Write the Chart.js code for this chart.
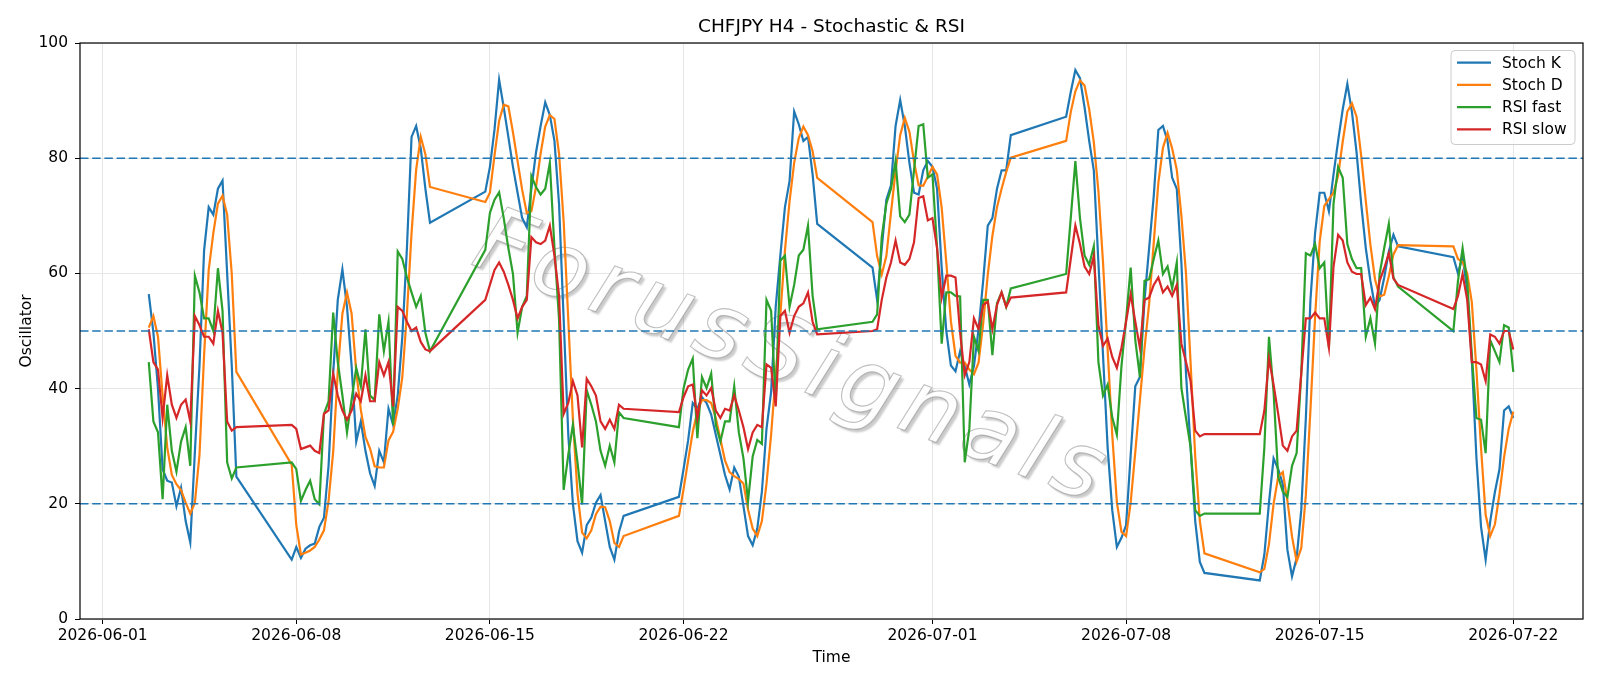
<!DOCTYPE html>
<html>
<head>
<meta charset="utf-8">
<title>CHFJPY H4 - Stochastic &amp; RSI</title>
<script src="https://cdn.jsdelivr.net/npm/chart.js@4.4.1/dist/chart.umd.min.js"></script>
<style>
  html, body { margin: 0; padding: 0; background: #fff; }
  #wrap { width: 1600px; height: 686px; }
</style>
</head>
<body>
<div id="wrap"><canvas id="chart" width="1600" height="686"></canvas></div>
<script>
// H4 bars per trading day (plus the Sunday 20:00 open bar)
var H4 = [0, 4, 8, 12, 16, 20];
var sessions = [
    ['2026-06-02', [16, 20]], ['2026-06-03', H4], ['2026-06-04', H4], ['2026-06-05', H4],
    ['2026-06-07', [20]],
    ['2026-06-08', H4], ['2026-06-09', H4], ['2026-06-10', H4], ['2026-06-11', H4], ['2026-06-12', H4],
    ['2026-06-14', [20]],
    ['2026-06-15', H4], ['2026-06-16', H4], ['2026-06-17', H4], ['2026-06-18', H4], ['2026-06-19', H4],
    ['2026-06-21', [20]],
    ['2026-06-22', H4], ['2026-06-23', H4], ['2026-06-24', H4], ['2026-06-25', H4], ['2026-06-26', H4],
    ['2026-06-28', [20]],
    ['2026-06-29', H4], ['2026-06-30', H4], ['2026-07-01', H4], ['2026-07-02', H4], ['2026-07-03', H4],
    ['2026-07-05', [20]],
    ['2026-07-06', H4], ['2026-07-07', H4], ['2026-07-08', H4], ['2026-07-09', H4], ['2026-07-10', H4],
    ['2026-07-12', [20]],
    ['2026-07-13', H4], ['2026-07-14', H4], ['2026-07-15', H4], ['2026-07-16', H4], ['2026-07-17', H4],
    ['2026-07-19', [20]],
    ['2026-07-20', H4], ['2026-07-21', H4], ['2026-07-22', [0]]
];

var tickLabels = ['2026-06-01', '2026-06-08', '2026-06-15', '2026-06-22', '2026-07-01', '2026-07-08', '2026-07-15', '2026-07-22'];
var levels = [20, 50, 80];

var stochK = [
    56.4, 49.7, 40, 26, 24, 23.7, 19.6, 22.8, 17, 13.3, 29, 44, 64, 71.5, 70.2, 74.7, 76.1, 60, 44, 24.7,
    10.3,
    12.5, 10.6, 12.2, 12.8, 13.1, 16, 17.6, 26.6, 42.6, 55.4, 60.7, 54.2, 43.9, 30.8, 34.3, 29.2, 25.3, 23.1, 29.2, 27.2, 36.5, 33.7, 38.8, 49, 64.4, 83.7, 85.6, 81.7, 74.7, 68.8,
    74.2,
    78.5, 85, 93.6, 88.8, 83.7, 78.5, 74, 69.6, 68, 74.7, 81, 85.6, 89.7, 87.5, 83, 72, 52, 32, 20, 13.5, 11.5, 16.3, 17.6, 20.2, 21.5, 17, 12.5, 10.3, 15.1, 17.9,
    21.2,
    26, 31, 37.5, 36.5, 38.5, 37.5, 35.5, 32, 28.5, 25, 22.5, 26.3, 24.7, 19.6, 14.4, 12.8, 15.7, 22.1, 33, 39.4, 54.2, 63.1, 71.5, 76, 88.1, 85.9, 83, 83.7, 77.2, 68.6,
    61,
    55.4, 64.4, 72.8, 75.3, 85.6, 90.1, 85.6, 79.2, 74, 73.7, 77.9, 79.5, 78.5, 74.7, 61, 50, 44, 43, 46.5, 43.9, 40.7, 43.9, 50.3, 58.7, 68.3, 69.6, 74.7, 77.9, 77.9, 84,
    87.2,
    91.5, 95.3, 93.9, 88.8, 83, 77.9, 61.9, 45.8, 29.8, 18.9, 12.5, 14.1, 16.3, 28.5, 40.4, 42, 55.4, 64.4, 73.4, 84.9, 85.6, 83, 76.6, 74.7, 61.9, 42.6, 29.8, 17, 9.9, 8,
    6.7,
    11.2, 20.2, 27.9, 26, 23.4, 12, 7.4, 10.6, 18.9, 34.9, 55.4, 67, 74, 74, 70.8, 77.2, 83, 88.5, 92.9, 88, 81, 72.1, 64.4, 58.7, 54.2, 55.4, 59.3, 63.8, 66.7, 64.7,
    62.8,
    60, 63, 57, 45, 28, 16, 10.3, 17, 22, 26, 36.2, 36.9, 34.9
];

var stochD = [
    50.6, 52.6, 49, 38.8, 29.8, 25, 23.4, 22.4, 20.2, 18.3, 20.2, 28.5, 45.8, 60.6, 67, 72.1, 73.5, 70.2, 59.9, 42.9,
    26.8,
    16.3, 11.2, 11.5, 11.9, 12.5, 13.8, 15.4, 20.5, 29, 43, 53, 56.7, 53, 43, 36.3, 31.6, 29.6, 26.5, 26.3, 26.3, 31, 32.5, 36.5, 42, 53, 67, 78, 83.7, 80.7, 75,
    72.4,
    74, 80.5, 86.5, 89.3, 89, 84.5, 79.5, 74.5, 70.5, 70.8, 75, 80.8, 85.5, 87.5, 86.8, 80.8, 69, 52, 34.7, 21.8, 15, 14, 15.4, 18.2, 19.5, 19.4, 17, 13.2, 12.5, 14.4,
    17.9,
    22.5, 27.5, 32.5, 36, 38, 38, 37.5, 34.9, 31.2, 27.5, 25.5, 24.8, 24.3, 23.5, 19, 15.7, 14.4, 17, 23.5, 32, 42.4, 52.8, 64, 72.5, 79.2, 83.5, 85.5, 84, 81.2, 76.6,
    68.9,
    63, 59.8, 63, 70.5, 77.8, 84, 87, 84.6, 79.4, 75.3, 75.2, 76.8, 78.5, 77.2, 71.4, 61.9, 51.7, 45.7, 44.5, 44.5, 43.3, 42.5, 44.5, 51.3, 59.8, 66.5, 71.5, 74.7, 77.6, 80.1,
    83,
    88, 91.6, 93.5, 92.6, 88.5, 82.8, 74.3, 61.9, 46.8, 32, 20.3, 15.1, 14.4, 20.2, 29, 38, 47, 54.7, 65.3, 75.7, 81.8, 84.4, 81.7, 78, 70, 60, 44.4, 28.2, 17, 11.4,
    8.1,
    8.7, 13, 20, 24.7, 25.5, 20.5, 14.3, 10, 12.3, 21.5, 36.4, 52.4, 65.5, 71.7, 72.9, 74, 77, 82.9, 88.1, 89.5, 87.2, 80.4, 72.6, 65, 59, 56, 56.3, 59.5, 63.3, 64.9,
    64.7,
    62.5, 62, 60, 55, 43.3, 29.7, 18.1, 14.4, 16.4, 21.7, 28.1, 33, 36
];

var rsiFast = [
    44.6, 34.3, 32.4, 20.8, 37.2, 29.2, 25.6, 30.8, 33.3, 26.6, 59.6, 56.7, 52.2, 52.2, 50, 60.9, 53.5, 27.2, 24.4, 26.3,
    27.2,
    26, 20.5, 22.4, 24, 20.8, 19.9, 35.6, 37.8, 53.2, 44.6, 38.8, 32.4, 38.1, 43.6, 40.4, 50.3, 38.8, 38, 52.9, 46.5, 51.6, 33.7, 63.8, 62.5, 59.3, 56.7, 54.2, 56.1, 49.7, 46.5,
    64.1,
    70.5, 72.8, 74.1, 69.6, 64.4, 59.9, 49.7, 54.2, 56.1, 76.9, 75, 73.7, 74.7, 79.2, 64.4, 52, 22.4, 28.5, 33.7, 27.2, 19.9, 39.7, 37.2, 34.3, 29.2, 26.6, 30.1, 27.2, 35.9, 34.9,
    33.3,
    40, 43.3, 45.2, 31.4, 42, 40.1, 42.6, 33.7, 30.8, 34.3, 34.3, 40.4, 32.4, 27.9, 20.5, 28.2, 31.1, 30.4, 55.4, 53.5, 37.5, 62.2, 63.1, 54.2, 58, 63.1, 64.1, 68.3, 56.1, 50.3,
    51.6,
    52.9, 66.3, 72.1, 74.7, 79.5, 69.9, 68.9, 70.2, 77.9, 85.6, 85.9, 76.6, 77.2, 64.4, 47.8, 56.7, 56.7, 56.1, 56, 27.2, 33, 49, 46.5, 55.4, 55.4, 45.8, 54.8, 56.7, 54.2, 57.4,
    59.9,
    69.6, 79.5, 69.6, 63.1, 61.5, 64.7, 44.6, 38.8, 40.7, 35, 32, 43.9, 52, 61, 48.4, 42, 58.7, 59, 62.5, 65.7, 59.9, 61.2, 57.4, 61.9, 40.1, 34.9, 29.8, 18.9, 17.9, 18.3,
    18.3,
    29.8, 49, 39.4, 24.7, 22.1, 21.2, 26.6, 28.8, 42.6, 63.5, 63.1, 65.1, 60.9, 61.9, 47.1, 72.1, 78.5, 76.6, 65.1, 62.5, 60.9, 60.9, 49, 52.2, 47.8, 59.9, 64.4, 68.6, 59.3, 57.7,
    50,
    58.7, 64.4, 58.7, 45.8, 34.9, 34.6, 28.8, 48.4, 46.5, 44.6, 51, 50.6, 42.9
];

var rsiSlow = [
    50.3, 44.6, 43.3, 34.9, 42.3, 37.2, 34.9, 37.2, 38.1, 34.3, 52.6, 51, 49, 49, 47.8, 53.5, 49.7, 34.3, 32.7, 33.3,
    33.7,
    33, 29.5, 29.8, 30.1, 29.2, 28.8, 35.6, 36.2, 42.6, 38.8, 36.2, 34.6, 36.2, 39.1, 37.8, 42.3, 37.8, 37.8, 44.6, 42.3, 44.6, 36.9, 54.2, 53.5, 51.6, 50, 50.6, 48.1, 46.8, 46.5,
    55.4,
    58, 60.6, 61.9, 60.3, 58, 55.4, 52.2, 54.2, 55.4, 66.3, 65.4, 65.1, 65.7, 68.3, 63.1, 56.1, 35.6, 37.5, 41.3, 38.8, 29.8, 41.7, 40.4, 38.8, 34.3, 33, 34.6, 33, 37.2, 36.5,
    35.9,
    38.5, 40.4, 40.7, 34.9, 39.7, 38.8, 40.1, 36.2, 34.9, 36.5, 36.2, 38.8, 36.2, 33.3, 29.5, 32.4, 33.7, 33.3, 44.2, 43.6, 36.9, 52.6, 53.5, 49.7, 52.6, 54.2, 54.8, 56.7, 51.6, 49.4,
    50,
    50.3, 55.4, 59.3, 61.9, 65.7, 61.9, 61.5, 62.5, 65.4, 73.1, 73.4, 69.2, 69.6, 64.4, 55.8, 59.6, 59.6, 59.3, 49.7, 42.3, 44.6, 52.2, 50.3, 54.5, 55.1, 50.3, 54.5, 56.7, 54.2, 55.8,
    56.7,
    62.5, 68.3, 65.1, 61.2, 59.9, 63, 51, 47.4, 48.7, 45.5, 43.6, 47.1, 51.6, 56.4, 51.6, 47.1, 55.4, 55.8, 58, 59.3, 56.7, 57.7, 56.1, 58, 47.8, 44.6, 41.3, 32.7, 31.7, 32.1,
    32.1,
    36.2, 45.2, 40.7, 35.6, 30.1, 29.2, 31.7, 32.7, 42.6, 52.2, 52.2, 53.2, 52.2, 52.2, 47.1, 61.2, 66.7, 65.7, 61.9, 60.3, 59.9, 59.9, 54.5, 55.8, 53.8, 58.7, 60.9, 63.5, 59.1, 58,
    53.8,
    56.1, 59.9, 55.4, 44.6, 44.6, 44.2, 41.3, 49.4, 49, 47.8, 50, 50, 46.8
];

// --- helpers ---
var DAY0 = Date.UTC(2026, 5, 1);
function dayOf(dateStr, hour) {
    var p = dateStr.split('-');
    return (Date.UTC(+p[0], +p[1] - 1, +p[2], hour || 0) - DAY0) / 86400000;
}

var barDays = [];
sessions.forEach(function (s) {
    s[1].forEach(function (h) { barDays.push(dayOf(s[0], h)); });
});
var tickDays = tickLabels.map(function (d) { return dayOf(d, 0); });

function toPoints(values) {
    return values.map(function (v, i) { return { x: barDays[i], y: v }; });
}

var xMin = -0.82, xMax = 53.52;
var FONT = "'DejaVu Sans', 'Liberation Sans', sans-serif";

Chart.defaults.font.family = FONT;
Chart.defaults.font.size = 15.5;
Chart.defaults.color = '#000';

var series = [
    { label: 'Stoch K', data: stochK, color: '#1f77b4', order: 4 },
    { label: 'Stoch D', data: stochD, color: '#ff7f0e', order: 3 },
    { label: 'RSI fast', data: rsiFast, color: '#2ca02c', order: 2 },
    { label: 'RSI slow', data: rsiSlow, color: '#d62728', order: 1 }
];

var datasets = series.map(function (s) {
    return {
        label: s.label,
        data: toPoints(s.data),
        borderColor: s.color,
        backgroundColor: s.color,
        borderWidth: 2.2,
        pointRadius: 0,
        tension: 0,
        fill: false,
        order: s.order
    };
});

levels.forEach(function (lv) {
    datasets.push({
        label: 'level ' + lv,
        data: [{ x: xMin, y: lv }, { x: xMax, y: lv }],
        borderColor: '#1f77b4',
        borderWidth: 1.5,
        borderDash: [8.5, 3.7],
        pointRadius: 0,
        fill: false,
        order: 0
    });
});

var decorPlugin = {
    id: 'decor',
    beforeDraw: function (chart) {
        var ctx = chart.ctx;
        ctx.save();
        ctx.fillStyle = '#fff';
        ctx.fillRect(0, 0, chart.width, chart.height);
        ctx.restore();
    },
    beforeDatasetsDraw: function (chart) {
        // watermark
        var ctx = chart.ctx;
        ctx.save();
        ctx.translate(792, 362);
        ctx.rotate(21 * Math.PI / 180);
        ctx.font = 'italic 91px ' + FONT;
        if ('letterSpacing' in ctx) ctx.letterSpacing = '8px';
        ctx.textAlign = 'center';
        ctx.textBaseline = 'middle';
        ctx.shadowColor = 'rgba(0,0,0,0.22)';
        ctx.shadowOffsetX = 3;
        ctx.shadowOffsetY = 3;
        ctx.shadowBlur = 2;
        ctx.fillStyle = 'rgba(255,255,255,0.95)';
        ctx.fillText('ForusSignals', 0, 0);
        ctx.shadowColor = 'transparent';
        ctx.strokeStyle = 'rgba(130,130,130,0.5)';
        ctx.lineWidth = 1.1;
        ctx.strokeText('ForusSignals', 0, 0);
        ctx.restore();
    },
    afterDatasetsDraw: function (chart) {
        var a = chart.chartArea, ctx = chart.ctx;
        ctx.save();
        ctx.strokeStyle = '#000';
        ctx.lineWidth = 1.2;
        ctx.strokeRect(a.left, a.top, a.right - a.left, a.bottom - a.top);
        // title
        ctx.fillStyle = '#000';
        ctx.font = '18.5px ' + FONT;
        ctx.textAlign = 'center';
        ctx.textBaseline = 'middle';
        ctx.fillText('CHFJPY H4 - Stochastic & RSI', (a.left + a.right) / 2, 27);
        ctx.restore();
    },
    afterDraw: function (chart) {
        // legend box in the upper right of the axes
        var ctx = chart.ctx;
        var bx = 1451, by = 50.5, bw = 124, bh = 94;
        ctx.save();
        ctx.fillStyle = 'rgba(255,255,255,0.8)';
        ctx.strokeStyle = '#cccccc';
        ctx.lineWidth = 1;
        ctx.beginPath();
        if (ctx.roundRect) ctx.roundRect(bx, by, bw, bh, 4); else ctx.rect(bx, by, bw, bh);
        ctx.fill();
        ctx.stroke();
        ctx.font = '15.5px ' + FONT;
        ctx.textBaseline = 'middle';
        ctx.textAlign = 'left';
        series.forEach(function (s, i) {
            var y = 62.7 + i * 22.2;
            ctx.strokeStyle = s.color;
            ctx.lineWidth = 2.2;
            ctx.beginPath();
            ctx.moveTo(1457, y);
            ctx.lineTo(1491, y);
            ctx.stroke();
            ctx.fillStyle = '#000';
            ctx.fillText(s.label, 1502, y + 1);
        });
        ctx.restore();
    }
};

new Chart(document.getElementById('chart').getContext('2d'), {
    type: 'line',
    data: { datasets: datasets },
    plugins: [decorPlugin],
    options: {
        responsive: false,
        animation: false,
        devicePixelRatio: 1,
        layout: { padding: { top: 43, right: 17, left: 0, bottom: 0 } },
        plugins: {
            legend: { display: false },
            tooltip: { enabled: false },
            title: { display: false }
        },
        scales: {
            x: {
                type: 'linear',
                min: xMin,
                max: xMax,
                afterBuildTicks: function (scale) {
                    scale.ticks = tickDays.map(function (v) { return { value: v }; });
                },
                afterFit: function (scale) { scale.height = 67; },
                ticks: {
                    autoSkip: false,
                    maxRotation: 0,
                    minRotation: 0,
                    padding: 3,
                    color: '#000',
                    callback: function (v, i) { return tickLabels[i]; }
                },
                grid: { color: '#e6e6e6', lineWidth: 1, tickColor: '#000', tickLength: 5 },
                border: { display: false },
                title: { display: true, text: 'Time', color: '#000', font: { size: 15.5 }, padding: { top: 19, bottom: 19 } }
            },
            y: {
                min: 0,
                max: 100,
                afterFit: function (scale) { scale.width = 80; },
                ticks: { stepSize: 20, padding: 7, color: '#000' },
                grid: { color: '#e6e6e6', lineWidth: 1, tickColor: '#000', tickLength: 5 },
                border: { display: false },
                title: { display: true, text: 'Oscillator', color: '#000', font: { size: 15.5 }, padding: { top: 18, bottom: 18 } }
            }
        }
    }
});
</script>
</body>
</html>
